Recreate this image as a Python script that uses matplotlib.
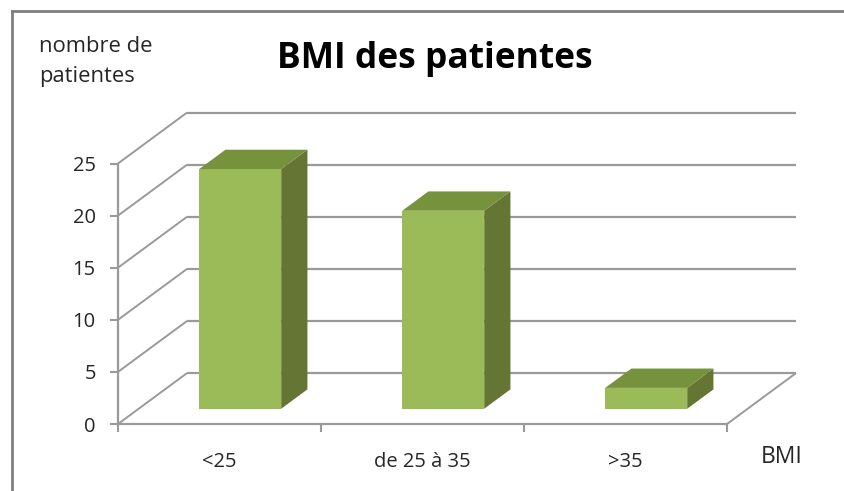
import matplotlib
matplotlib.use('Agg')
import matplotlib.pyplot as plt
from matplotlib.lines import Line2D

plt.rcParams['font.family'] = ['Open Sans', 'DejaVu Sans']

categories = ['<25', 'de 25 à 35', '>35']
patientes = [23, 19, 2]
y_ticks = [0, 5, 10, 15, 20, 25]

W, H = 845, 491
GRID = '#9a9a9a'
TEXT = '#262626'

# oblique depth of the 3D box, in data units
DEPTH_X = 69 / 203
DEPTH_Y = 51 / 10.44
BAR_WIDTH = 0.404
BAR_NEAR = 0.30
BAR_FAR = 0.68


def project(x, y, depth):
    return x + depth * DEPTH_X, y + depth * DEPTH_Y


def draw_face(ax, corners, color):
    xs = [project(*c)[0] for c in corners]
    ys = [project(*c)[1] for c in corners]
    ax.fill(xs, ys, color=color, lw=0, clip_on=False, zorder=3)


def draw_bar(ax, i, value):
    x0 = i + 0.5 - BAR_WIDTH / 2
    x1 = i + 0.5 + BAR_WIDTH / 2
    draw_face(ax, [(x0, 0, BAR_NEAR), (x1, 0, BAR_NEAR), (x1, value, BAR_NEAR), (x0, value, BAR_NEAR)], '#9bbb59')
    draw_face(ax, [(x1, 0, BAR_NEAR), (x1, 0, BAR_FAR), (x1, value, BAR_FAR), (x1, value, BAR_NEAR)], '#647534')
    draw_face(ax, [(x0, value, BAR_NEAR), (x1, value, BAR_NEAR), (x1, value, BAR_FAR), (x0, value, BAR_FAR)], '#76923c')


fig = plt.figure(figsize=(W / 100, H / 100), dpi=100)
ax = fig.add_axes([118 / W, 1 - 424 / H, (727 - 118) / W, (424 - 163.5) / H])
n = len(categories)
ax.set_xlim(0, n)
ax.set_ylim(0, 25)
ax.patch.set_visible(False)

# back wall grid and side wall slants
for v in y_ticks:
    xb0, yb = project(0, v, 1)
    xb1, _ = project(n, v, 1)
    ax.plot([xb0, xb1], [yb, yb], color=GRID, lw=1.6, clip_on=False, zorder=1, solid_capstyle='butt')
    ax.plot([0, xb0], [v, yb], color=GRID, lw=1.4, clip_on=False, zorder=1, solid_capstyle='butt')
xb, yb = project(n, 0, 1)
ax.plot([n, xb], [0, yb], color=GRID, lw=1.4, clip_on=False, zorder=1, solid_capstyle='butt')

for i, v in enumerate(patientes):
    draw_bar(ax, i, v)

for s in ['top', 'right']:
    ax.spines[s].set_visible(False)
for s in ['left', 'bottom']:
    ax.spines[s].set_color(GRID)
    ax.spines[s].set_linewidth(1.6)
ax.set_yticks(y_ticks)
ax.set_xticks(range(n + 1))
ax.set_xticklabels([])
ax.tick_params(axis='both', color=GRID, width=1.5, length=6)
ax.tick_params(axis='y', labelsize=14.5, labelcolor=TEXT, pad=10)

for i, c in enumerate(categories):
    ax.text(i + 0.5, -3.6, c, ha='center', va='center', fontsize=14.5, color=TEXT)

fig.text(39 / W, 1 - 46 / H, 'nombre de', fontsize=15.8, color=TEXT, va='center')
fig.text(39 / W, 1 - 77 / H, 'patientes', fontsize=15.8, color=TEXT, va='center')
fig.text(435 / W, 1 - 59 / H, 'BMI des patientes', fontsize=25.5, fontweight='bold',
         color='black', ha='center', va='center')
fig.text(761 / W, 1 - 457 / H, 'BMI', fontsize=16.5, color=TEXT, va='center')

# chart frame, open on the right and bottom of the crop
fig.add_artist(Line2D([12 / W, 12 / W], [0, 1 - 11 / H], color='#808080', lw=2))
fig.add_artist(Line2D([12 / W, 1], [1 - 11 / H, 1 - 11 / H], color='#808080', lw=2))

fig.savefig('out.png', dpi=100)
